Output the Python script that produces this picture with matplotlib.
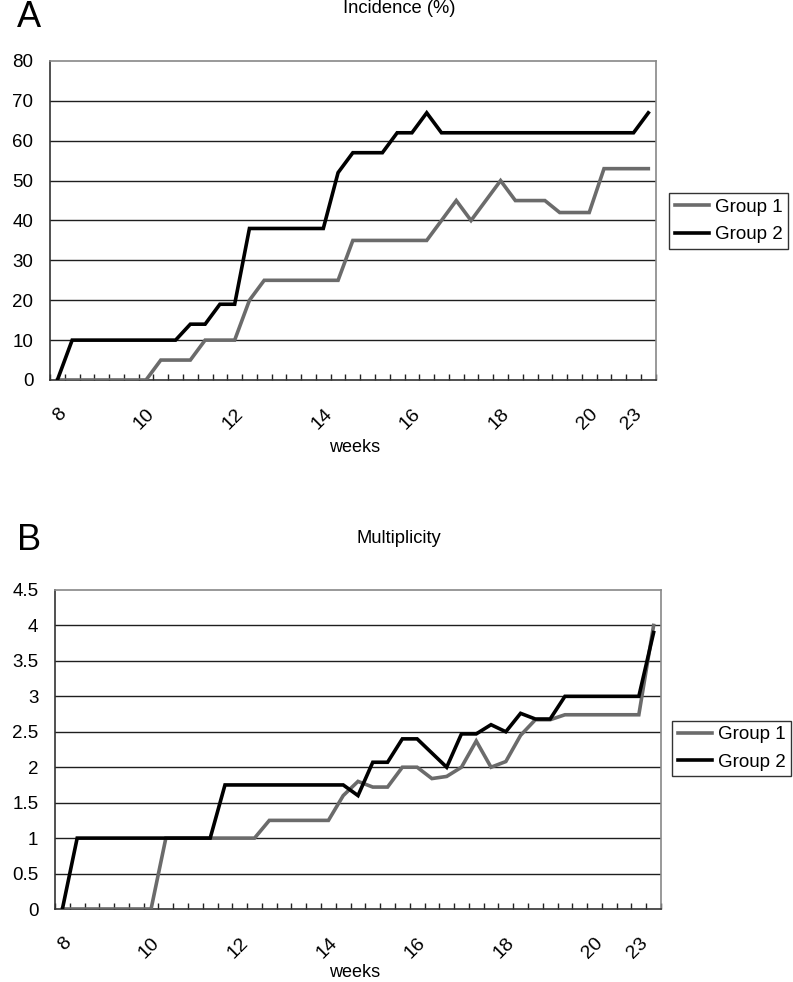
import matplotlib
matplotlib.use("Agg")
import matplotlib.pyplot as plt
import numpy as np

plt.rcParams['font.family'] = ['Liberation Sans', 'DejaVu Sans']

# category positions (3 per week) and the labels Excel showed
week_pos = [0, 6, 12, 18, 24, 30, 36, 39]
week_labels = ['8', '10', '12', '14', '16', '18', '20', '23']

incidence_g1 = [0, 0, 0, 0, 0, 0, 0, 5, 5, 5, 10, 10, 10, 20, 25, 25, 25, 25, 25, 25,
                35, 35, 35, 35, 35, 35, 40, 45, 40, 45, 50, 45, 45, 45, 42, 42, 42,
                53, 53, 53, 53]
incidence_g2 = [0, 10, 10, 10, 10, 10, 10, 10, 10, 14, 14, 19, 19, 38, 38, 38, 38, 38, 38,
                52, 57, 57, 57, 62, 62, 67, 62, 62, 62, 62, 62, 62, 62, 62, 62, 62, 62,
                62, 62, 62, 67]

mult_g1 = [0, 0, 0, 0, 0, 0, 0, 1, 1, 1, 1, 1, 1, 1, 1.25, 1.25, 1.25, 1.25, 1.25,
           1.6, 1.8, 1.72, 1.72, 2.0, 2.0, 1.84, 1.87, 2.0, 2.37, 2.0, 2.08, 2.45,
           2.67, 2.67, 2.74, 2.74, 2.74, 2.74, 2.74, 2.74, 4.0]
mult_g2 = [0, 1, 1, 1, 1, 1, 1, 1, 1, 1, 1, 1.75, 1.75, 1.75, 1.75, 1.75, 1.75, 1.75,
           1.75, 1.75, 1.6, 2.07, 2.07, 2.4, 2.4, 2.2, 2.0, 2.47, 2.47, 2.6, 2.5, 2.76,
           2.68, 2.68, 3.0, 3.0, 3.0, 3.0, 3.0, 3.0, 3.9]

GRAY = '#6b6b6b'
W, H = 793, 982

fig = plt.figure(figsize=(W / 100, H / 100), dpi=100)


def panel(rect, g1, g2, ymax, ystep, yfmt, title, letter, title_y, letter_y, weeks_y, leg_x, leg_y):
    ax = fig.add_axes(rect)
    x = np.arange(len(g1))
    l1, = ax.plot(x, g1, color=GRAY, lw=2.6, solid_joinstyle='miter', label='Group 1', zorder=3)
    l2, = ax.plot(x, g2, color='black', lw=2.6, solid_joinstyle='miter', label='Group 2', zorder=4)

    ax.set_xlim(-0.5, len(g1) - 0.5)
    ax.set_ylim(0, ymax)
    yt = np.arange(0, ymax + ystep / 2, ystep)
    ax.set_yticks(yt)
    ax.set_yticklabels([yfmt(v) for v in yt], fontsize=13.5)
    ax.tick_params(axis='y', length=0, pad=12)
    for v in yt[1:-1]:
        ax.axhline(v, color='#1e1e1e', lw=1.0, zorder=1)

    ax.set_xticks(week_pos)
    ax.set_xticklabels(week_labels, fontsize=14, rotation=45, ha='right', va='top',
                       rotation_mode='anchor')
    ax.tick_params(axis='x', which='major', length=0, pad=18)
    ax.set_xticks(np.arange(-0.5, len(g1)), minor=True)
    ax.tick_params(axis='x', which='minor', direction='in', length=4, width=1, color='#222222')

    for s in ('left', 'bottom'):
        ax.spines[s].set_color('#333333')
        ax.spines[s].set_linewidth(1.2)
    for s in ('top', 'right'):
        ax.spines[s].set_color('#888888')
        ax.spines[s].set_linewidth(1.2)

    fig.text(399 / W, 1 - title_y / H, title, ha='center', va='baseline', fontsize=13.2)
    fig.text(17 / W, 1 - letter_y / H, letter, ha='left', va='baseline', fontsize=26)
    fig.text(355 / W, 1 - weeks_y / H, 'weeks', ha='center', va='baseline', fontsize=13)

    leg = fig.legend(handles=[l1, l2], loc='center left',
                     bbox_to_anchor=(leg_x / W, 1 - leg_y / H), fontsize=13.5,
                     frameon=True, fancybox=False, shadow=False, handlelength=1.85,
                     handletextpad=0.3, borderpad=0.3, labelspacing=0.55,
                     borderaxespad=0)
    leg.get_frame().set_edgecolor('black')
    leg.get_frame().set_linewidth(1.0)
    return ax


panel([50 / W, 1 - 380 / H, 605.7 / W, 319 / H], incidence_g1, incidence_g2,
      80, 10, lambda v: f'{v:.0f}', 'Incidence (%)', 'A', 13, 27, 452, 669, 221)

panel([55 / W, 1 - 909 / H, 606 / W, 319 / H], mult_g1, mult_g2,
      4.5, 0.5, lambda v: f'{v:g}', 'Multiplicity', 'B', 543, 550, 977, 672, 748.5)

fig.savefig('out.png', dpi=100)
